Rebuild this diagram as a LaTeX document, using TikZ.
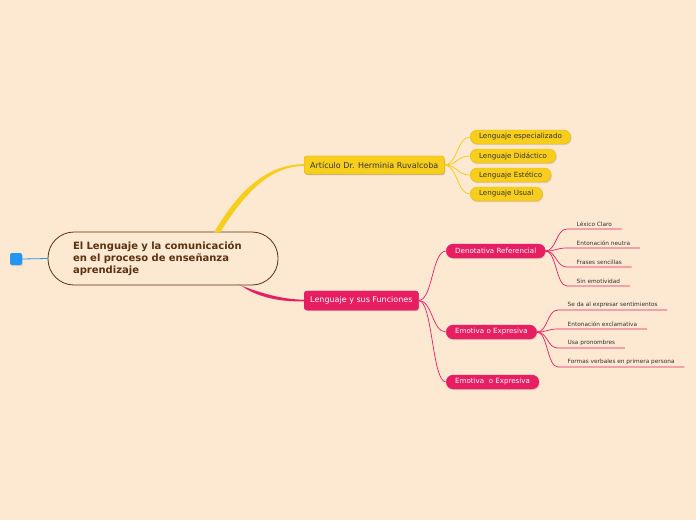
\documentclass[tikz,border=0pt]{standalone}
\usepackage{fontspec}
\setmainfont{DejaVu Sans}
\usetikzlibrary{calc,shadows}
\definecolor{peach}{HTML}{FDE8D2}
\definecolor{sunflower}{HTML}{F8CE1C}
\definecolor{sunedge}{HTML}{E2B400}
\definecolor{raspberry}{HTML}{E81E63}
\definecolor{cocoa}{HTML}{5B3210}
\definecolor{skyblue}{HTML}{2196F3}
\definecolor{ink}{HTML}{333333}

\tikzset{
  softshadow/.style={drop shadow={opacity=0.25, shadow xshift=0.8pt, shadow yshift=-1.2pt}},
  rootbox/.style={draw=cocoa, line width=0.8pt, fill=peach, rounded corners=26pt,
    minimum width=230pt, minimum height=53pt, text width=180pt, align=left,
    text=cocoa, font=\bfseries\fontsize{10}{12}\selectfont},
  yelbox/.style={fill=sunflower, draw=sunedge, line width=0.3pt, rounded corners=3pt,
    anchor=west, minimum height=18pt, inner xsep=6pt, text=ink,
    font=\fontsize{8}{9}\selectfont, softshadow},
  yelleaf/.style={yelbox, rounded corners=7pt, minimum height=14pt, inner xsep=9pt,
    font=\fontsize{7.1}{8}\selectfont},
  pinkbox/.style={fill=raspberry, draw=raspberry, rounded corners=3pt, anchor=west,
    minimum height=19pt, inner xsep=6pt, text=white,
    font=\fontsize{8}{9}\selectfont, softshadow},
  pinkleaf/.style={pinkbox, rounded corners=7pt, minimum height=14pt, inner xsep=9pt,
    font=\fontsize{7.1}{8}\selectfont},
  twig/.style={anchor=south west, inner xsep=9.5pt, inner ysep=2.5pt, text=ink,
    font=\fontsize{5.8}{6.5}\selectfont},
  yelwire/.style={draw=sunflower, line width=0.8pt},
  pinkwire/.style={draw=raspberry, line width=0.7pt}
}

\begin{document}
\begin{tikzpicture}[x=1pt, y=-1pt]
    % Page
    \fill[peach] (0,0) rectangle (696,520);
    \useasboundingbox (0,0) rectangle (696,520);

    % Central topic and handle
    \node[rootbox] (root) at (163,258.5) {El Lenguaje y la comunicación\\ en el proceso de enseñanza\\ aprendizaje};
    \node[fill=skyblue, rounded corners=2pt, minimum size=12pt, inner sep=0pt, softshadow] (handle) at (16,259) {};
    \draw[skyblue, line width=0.8pt] (handle.east) -- (root.west);

    % Main topics
    \node[yelbox] (art) at (304,165) {Artículo Dr. Herminia Ruvalcoba};
    \node[pinkbox] (func) at (304,300.5) {Lenguaje y sus Funciones};

    % Thick tapered branches
    \fill[sunflower] ($(root.north)+(51,1)$) .. controls (241,186) and (270,164.2) .. ($(art.west)+(0,-0.8)$)
        -- ($(art.west)+(0,0.8)$) .. controls (272,166.5) and (247,189) .. ($(root.north)+(57,1)$) -- cycle;
    \fill[raspberry] ($(root.south)+(74,-1.5)$) .. controls (262,294) and (284,299.5) .. ($(func.west)+(0,-0.8)$)
        -- ($(func.west)+(0,0.8)$) .. controls (282,302) and (258,298) .. ($(root.south)+(78,0)$) -- cycle;
    \node[yelbox] at (art.west) {Artículo Dr. Herminia Ruvalcoba};
    \node[pinkbox] at (func.west) {Lenguaje y sus Funciones};

    % Yellow subtopics
    \node[yelleaf] (esp) at (470,137) {Lenguaje especializado};
    \node[yelleaf] (did) at (470,156) {Lenguaje Didáctico};
    \node[yelleaf] (est) at (470,175) {Lenguaje Estético};
    \node[yelleaf] (usu) at (470,194) {Lenguaje Usual};
    \foreach \n in {esp,did,est,usu} {
        \draw[yelwire] (art.east) .. controls ($(art.east)+(13,0)$) and ($(\n.west)+(-13,0)$) .. (\n.west);
    }

    % Pink subtopics
    \node[pinkleaf] (deno) at (446,251) {Denotativa Referencial};
    \node[pinkleaf] (emo) at (446,332) {Emotiva o Expresiva};
    \node[pinkleaf] (emob) at (446,382) {Emotiva\ \ o Expresiva};
    \foreach \n in {deno,emo,emob} {
        \draw[pinkwire] (func.east) .. controls ($(func.east)+(14,0)$) and ($(\n.west)+(-14,0)$) .. (\n.west);
    }

    % Details of the denotative function
    \node[twig] (lex) at (567,229) {Léxico Claro};
    \node[twig] (neu) at (567,248) {Entonación neutra};
    \node[twig] (fra) at (567,267) {Frases sencillas};
    \node[twig] (sin) at (567,286) {Sin emotividad};
    \foreach \n in {lex,neu,fra,sin} {
        \draw[pinkwire] (deno.east) .. controls ($(deno.east)+(11,0)$) and ($(\n.south west)+(-11,0)$) .. (\n.south west) -- (\n.south east);
    }

    % Details of the emotive function
    \node[twig] (sen) at (558,310) {Se da al expresar sentimientos};
    \node[twig] (exc) at (558,329) {Entonación exclamativa};
    \node[twig] (pro) at (558,348) {Usa pronombres};
    \node[twig] (ver) at (558,367) {Formas verbales en primera persona};
    \foreach \n in {sen,exc,pro,ver} {
        \draw[pinkwire] (emo.east) .. controls ($(emo.east)+(11,0)$) and ($(\n.south west)+(-11,0)$) .. (\n.south west) -- (\n.south east);
    }

\end{tikzpicture}
\end{document}
